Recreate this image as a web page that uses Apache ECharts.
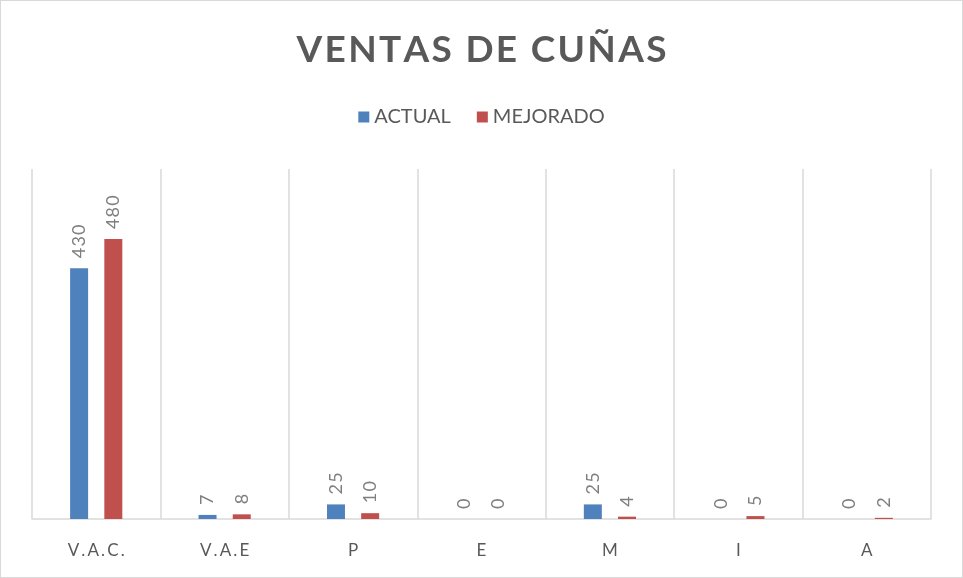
<!DOCTYPE html>
<html>
<head>
<meta charset="utf-8">
<script src="https://cdn.jsdelivr.net/npm/echarts@6/dist/echarts.min.js"></script>
<style>
  html, body { margin: 0; padding: 0; background: #fff; }
  #chart { width: 963px; height: 578px; box-sizing: border-box; border: 1px solid #d9d9d9; }
</style>
</head>
<body>
<div id="chart"></div>
<script>
// datos del grafico
var categorias = ['V.A.C.', 'V.A.E', 'P', 'E', 'M', 'I', 'A']
var actual = [430, 7, 25, 0, 25, 0, 0]
var mejorado = [480, 8, 10, 0, 4, 5, 2]

// Excel usa espaciado entre letras, lo imitamos con espacios finos
function espaciar(txt, sep) {
  return txt.split('').join(sep)
}

var gris = '#595959'
var fuente = 'Lato, "Open Sans", sans-serif'

var etiqueta = {
  show: true,
  position: 'top',
  rotate: 90,
  align: 'left',
  verticalAlign: 'middle',
  distance: 10,
  color: '#7f7f7f',
  fontSize: 18,
  fontFamily: fuente,
  formatter: function (p) { return espaciar(String(p.value), '\u200A') }
}

var myChart = echarts.init(document.getElementById('chart'))
var option = {
  animation: false,
  title: {
    text: espaciar('VENTAS DE CUÑAS', '\u200A'),
    left: 'center',
    top: 26,
    textStyle: { color: gris, fontSize: 37, fontWeight: 'bold', fontFamily: fuente }
  },
  legend: {
    top: 101,
    left: 'center',
    itemWidth: 11,
    itemHeight: 11,
    itemGap: 26,
    icon: 'rect',
    textStyle: { color: gris, fontSize: 20, fontFamily: fuente },
    data: ['ACTUAL', 'MEJORADO']
  },
  grid: { left: 31, right: 31, top: 168, bottom: 58 },
  xAxis: {
    type: 'category',
    data: categorias,
    axisLine: { lineStyle: { color: '#d9d9d9', width: 1.5 } },
    axisTick: { show: false },
    splitLine: { show: true, lineStyle: { color: '#d9d9d9', width: 1.5 } },
    axisLabel: {
      color: gris, fontSize: 17, fontFamily: fuente, margin: 23,
      formatter: function (v) { return espaciar(v, '\u2009') }
    }
  },
  yAxis: {
    type: 'value',
    min: 0,
    max: 600,
    show: false,
    splitLine: { show: false }
  },
  series: [
    {
      name: 'ACTUAL', type: 'bar', data: actual, barWidth: 18, barGap: '90%',
      itemStyle: { color: '#4f81bd' }, label: etiqueta
    },
    {
      name: 'MEJORADO', type: 'bar', data: mejorado, barWidth: 18,
      itemStyle: { color: '#c0504d' }, label: etiqueta
    }
  ]
}
myChart.setOption(option)
</script>
</body>
</html>
